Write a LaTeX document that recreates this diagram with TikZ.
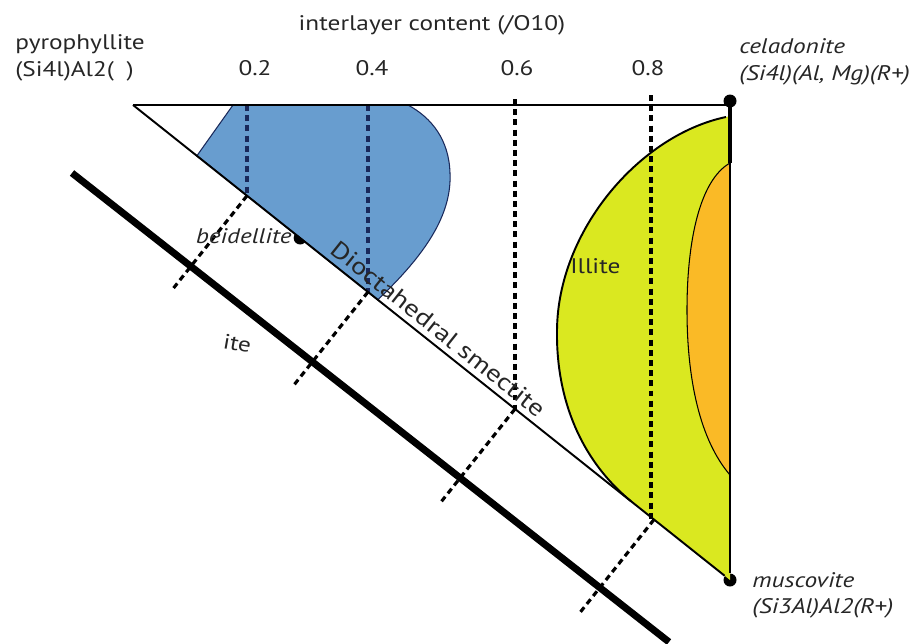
\documentclass[tikz,border=0pt]{standalone}
\usepackage{fontspec}
\setmainfont{PT Sans}[FakeStretch=1.2]
\usetikzlibrary{calc}
\definecolor{smblue}{RGB}{104,157,207}
\definecolor{illyellow}{RGB}{218,232,32}
\definecolor{musorange}{RGB}{250,186,38}
\definecolor{navy}{RGB}{25,40,90}
\tikzstyle{side} = [draw, line width=1.1pt]
\tikzstyle{cutline} = [draw, line width=4pt]
\tikzstyle{gridline} = [draw, line width=1.8pt, dash pattern=on 3.4pt off 2.4pt]
\tikzstyle{vertex} = [circle, fill=black, inner sep=0pt, minimum size=0.26cm]
\tikzstyle{lbl} = [inner sep=0pt, text=black!85, font=\fontsize{12}{14}\selectfont]
\tikzstyle{mineral} = [lbl, font=\fontsize{12}{14}\selectfont\itshape]

\begin{document}
\begin{tikzpicture}[x=0.02cm, y=-0.02cm]
	\useasboundingbox (0,0) rectangle (917,643);
	
	\coordinate (pyro) at (133,105);
	\node [vertex] (cel) at (730,101) {};
	\node [vertex] (mus) at (730,580) {};
	\node [vertex] (bei) at ($(pyro)!0.28!(mus)$) {};
	
	% fields
	\path [draw=navy, line width=0.6pt, fill=smblue] (233,105) -- ($(pyro)!0.107!(mus)$) -- ($(pyro)!0.41!(mus)$) .. controls (425,255) and (452,215) .. (450,173) .. controls (449,140) and (432,118) .. (408,105) -- cycle;
	\fill [illyellow] (mus.center) -- ($(pyro)!0.834!(mus)$) .. controls (575,455) and (556,390) .. (557,330) .. controls (558,230) and (640,135) .. (726,117) -- (730,116) -- cycle;
	\draw [line width=1.1pt] ($(pyro)!0.834!(mus)$) .. controls (575,455) and (556,390) .. (557,330) .. controls (558,230) and (640,135) .. (726,117);
	\path [draw, line width=0.6pt, fill=musorange] (730,163) .. controls (700,180) and (687,240) .. (687,310) .. controls (687,380) and (700,440) .. (730,475);
	
	% interlayer content lines
	\coordinate (t2) at (247,105);
	\coordinate (t4) at (368,105);
	\coordinate (t6) at (515,99);
	\coordinate (t8) at (651,95);
	\coordinate (h2) at ($(pyro)!0.191!(mus)$);
	\coordinate (h4) at ($(pyro)!0.3936!(mus)$);
	\coordinate (h6) at ($(pyro)!0.6399!(mus)$);
	\coordinate (h8) at ($(pyro)!0.8727!(mus)$);
	
	\path [gridline, navy] (t2) -- (t2 |- h2);
	\path [gridline, navy] (t4) -- (t4 |- h4);
	\path [gridline] (t6) -- (t6 |- h6);
	\path [gridline] (t8) -- (t8 |- h8);
	
	\path [gridline] (h2) -- ($(h2)!2.36cm!-90:(mus)$);
	\path [gridline] (h4) -- ($(h4)!2.36cm!-90:(mus)$);
	\path [gridline] (h6) -- ($(h6)!2.36cm!-90:(mus)$);
	\path [gridline] (h8) -- ($(h8)!2.36cm!-90:(mus)$);
	
	% triangle
	\path [side] (pyro) -- (pyro -| cel);
	\path [side] (cel) -- (mus);
	\path [draw, line width=2.4pt] (cel.center) -- (730,163);
	\path [side] (pyro) -- (mus) node [lbl, pos=0.5, sloped, above=3pt, font=\fontsize{13.5}{14}\selectfont] (dio) {Dioctahedral smectite};
	
	\coordinate (cuta) at (72,173);
	\coordinate (cutb) at (669,642);
	\path [cutline] (cuta) -- (cutb);
	
	% labels
	\node [lbl, anchor=base] (title) at (432,30) {interlayer content (/O10)};
	\node [lbl, anchor=base] (l2) at (255,75) {0.2};
	\node [lbl, anchor=base] (l4) at (372,75) {0.4};
	\node [lbl, anchor=base] (l6) at (517,75) {0.6};
	\node [lbl, anchor=base] (l8) at (648,75) {0.8};
	
	\node [lbl, anchor=base west] (pyroname) at (15,49) {pyrophyllite};
	\node [lbl, anchor=base west] (pyroform) at (15,76) {(Si4l)Al2(\hspace{0.6em})};
	\node [mineral, anchor=base west] (celname) at (739,53) {celadonite};
	\node [mineral, anchor=base west] (celform) at (739,80) {(Si4l)(Al, Mg)(R+)};
	\node [mineral, anchor=base west] (musname) at (752,587) {muscovite};
	\node [mineral, anchor=base west] (musform) at (752,613) {(Si3Al)Al2(R+)};
	\node [mineral, anchor=base east] (beiname) at (292,243) {beidellite};
	\node [lbl, anchor=base west] (ill) at (570,273) {Illite};
	\node [lbl, anchor=base west, rotate=-10] (tri) at (222,348) {ite};
	
\end{tikzpicture}
\end{document}
